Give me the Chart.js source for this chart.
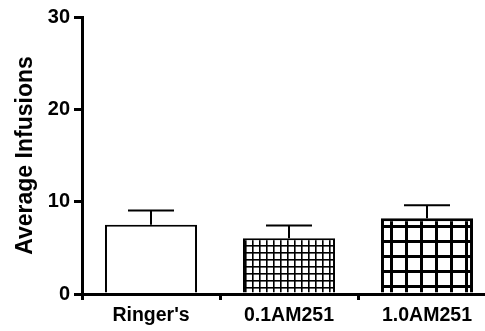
<!DOCTYPE html>
<html>
<head>
<meta charset="utf-8">
<script src="https://cdn.jsdelivr.net/npm/chart.js@4/dist/chart.umd.min.js"></script>
<style>
  html, body { margin: 0; padding: 0; background: #fff; overflow: hidden; }
  #wrap { width: 497px; height: 331px; }
</style>
</head>
<body>
<div id="wrap"><canvas id="chart" width="497" height="331"></canvas></div>
<script>
const categories = ["Ringer's", '0.1AM251', '1.0AM251'];
const means = [7.5, 6.05, 8.2];
const errors = [1.55, 1.38, 1.4];
const yTicks = [0, 10, 20, 30];

// grid hatch fills like the GraphPad bars
function gridPattern(size, lineW) {
    const c = document.createElement('canvas');
    c.width = size; c.height = size;
    const g = c.getContext('2d');
    g.fillStyle = '#fff';
    g.fillRect(0, 0, size, size);
    g.fillStyle = '#000';
    g.fillRect(0, 0, lineW, size);
    g.fillRect(0, 0, size, lineW);
    return g.createPattern(c, 'repeat');
}

const errorBars = {
    id: 'errorBars',
    afterDatasetsDraw(chart) {
        const ctx = chart.ctx;
        const meta = chart.getDatasetMeta(0);
        const y = chart.scales.y;
        ctx.save();
        ctx.strokeStyle = '#000';
        ctx.lineWidth = 2;
        meta.data.forEach((bar, i) => {
            const yTop = y.getPixelForValue(means[i] + errors[i]);
            const yMean = y.getPixelForValue(means[i]);
            const half = bar.width / 4;
            ctx.beginPath();
            ctx.moveTo(bar.x, yMean);
            ctx.lineTo(bar.x, yTop);
            ctx.moveTo(bar.x - half, yTop);
            ctx.lineTo(bar.x + half, yTop);
            ctx.stroke();
        });
        ctx.restore();
    }
};

const ctx = document.getElementById('chart').getContext('2d');
new Chart(ctx, {
    type: 'bar',
    data: {
        labels: categories,
        datasets: [{
            data: means,
            backgroundColor: ['#fff', gridPattern(7, 1.6), gridPattern(15, 3)],
            borderColor: '#000',
            borderWidth: [2, 2, 3],
            borderSkipped: 'bottom',
            barPercentage: 0.667,
            categoryPercentage: 1
        }]
    },
    options: {
        responsive: false,
        animation: false,
        layout: { padding: { top: 17, right: 1, left: 0, bottom: 0 } },
        plugins: { legend: { display: false }, tooltip: { enabled: false } },
        scales: {
            x: {
                grid: { display: true, drawOnChartArea: false, tickLength: 6, lineWidth: 3, color: '#000' },
                border: { display: true, color: '#000', width: 3 },
                ticks: { color: '#000', padding: 4, font: { family: 'Liberation Sans', size: 19.5, weight: 'bold' } },
                afterFit(scale) { scale.height = 37; }
            },
            y: {
                min: 0,
                max: 30,
                afterBuildTicks(scale) { scale.ticks = yTicks.map(v => ({ value: v })); },
                grid: { display: true, drawOnChartArea: false, tickLength: 8, lineWidth: 3, color: '#000' },
                border: { display: true, color: '#000', width: 3 },
                ticks: { color: '#000', padding: 4, font: { family: 'Liberation Sans', size: 20, weight: 'bold' } },
                title: {
                    display: true,
                    text: 'Average Infusions',
                    color: '#000',
                    padding: { top: 12, bottom: 0 },
                    font: { family: 'Liberation Sans', size: 23, weight: 'bold' }
                },
                afterFit(scale) { scale.width = 82; }
            }
        }
    },
    plugins: [errorBars]
});
</script>
</body>
</html>
